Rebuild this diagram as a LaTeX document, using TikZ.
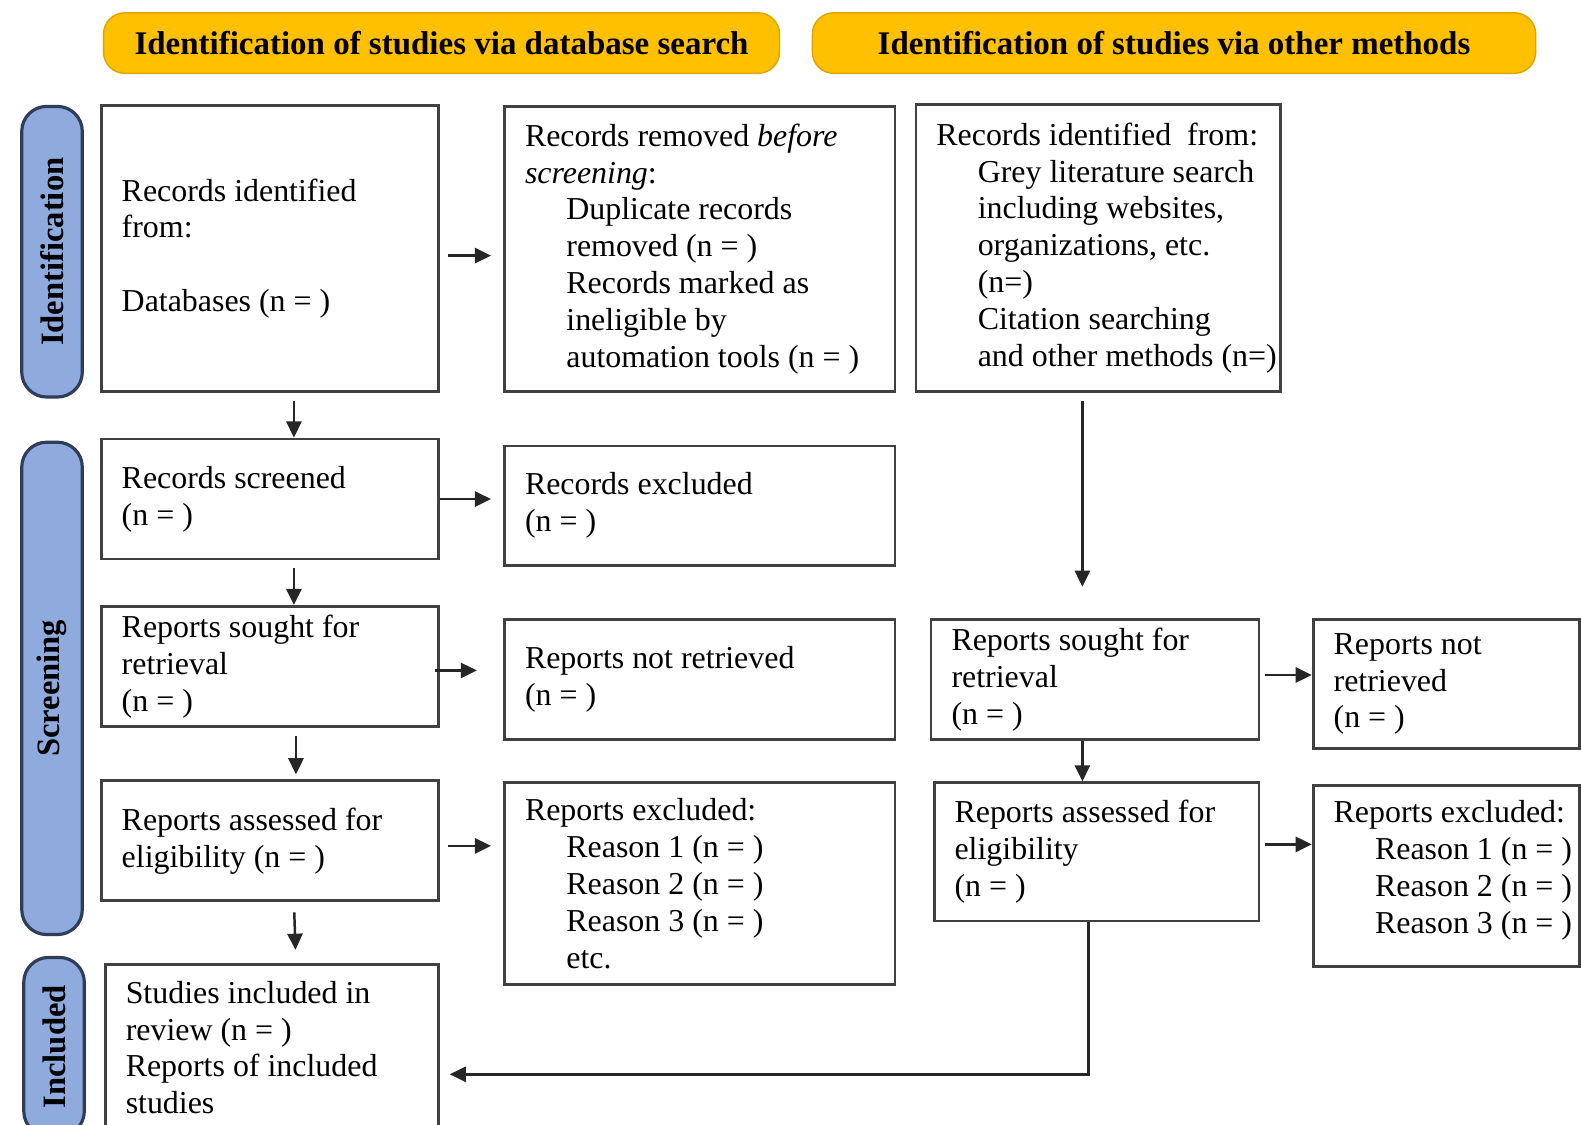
\documentclass[tikz,border=0pt]{standalone}
\usepackage{fontspec}
\setmainfont{Liberation Serif}
\usetikzlibrary{arrows.meta,positioning}
\definecolor{prgold}{RGB}{255,192,0}
\definecolor{prgoldline}{RGB}{222,165,0}
\definecolor{prblue}{RGB}{143,170,220}
\definecolor{prblueline}{RGB}{47,60,90}
\definecolor{prline}{RGB}{64,64,64}
\newcommand{\ind}{\hspace*{4.1mm}}

\begin{document}
\begin{tikzpicture}[x=0.01cm,y=-0.01cm,
  box/.style={draw=prline,line width=0.8pt,anchor=north west,inner sep=0pt},
  txt/.style={font=\fontsize{9}{10.4}\selectfont,align=left,inner sep=0pt},
  head/.style={draw=prgoldline,fill=prgold,rounded corners=6pt,anchor=north west,
    inner sep=0pt,font=\fontsize{9.3}{11}\selectfont\bfseries},
  tab/.style={draw=prblueline,fill=prblue,line width=0.9pt,rounded corners=7pt,
    anchor=north west,inner sep=0pt},
  tablbl/.style={rotate=90,font=\fontsize{9.2}{11}\selectfont\bfseries},
  arr/.style={-{Triangle[length=1.6mm,width=1.5mm]},line width=0.7pt,draw=black!85}
]
  \useasboundingbox (0,0) rectangle (1568,1115);

  % Headers
  \node[head,minimum width=6.70cm,minimum height=0.60cm] (hdb) at (102,12)
    {Identification of studies via database search};
  \node[head,minimum width=7.17cm,minimum height=0.60cm] (hoth) at (805,12)
    {Identification of studies via other methods};

  % Side tabs
  \node[tab,minimum width=0.60cm,minimum height=2.88cm] (tabid) at (20,104) {};
  \node[tablbl] at (tabid) {Identification};
  \node[tab,minimum width=0.60cm,minimum height=4.88cm] (tabscr) at (20,437) {};
  \node[tablbl] at (tabscr) {Screening};
  \node[tab,minimum width=0.60cm,minimum height=1.77cm] (tabinc) at (22,948) {};
  \node[tablbl] at (tabinc) {Included};

  % Database column
  \node[box,minimum width=3.34cm,minimum height=2.84cm] (recdb) at (99,103) {};
  \node[txt,right=0.21cm of recdb.west] {Records identified\\from:\\[10.4pt]Databases (n = )};
  \node[box,minimum width=3.34cm,minimum height=1.19cm] (screened) at (99,434) {};
  \node[txt,right=0.21cm of screened.west] {Records screened\\(n = )};
  \node[box,minimum width=3.34cm,minimum height=1.19cm] (sought) at (99,600) {};
  \node[txt,right=0.21cm of sought.west] {Reports sought for\\retrieval\\(n = )};
  \node[box,minimum width=3.34cm,minimum height=1.19cm] (assessed) at (99,773) {};
  \node[txt,right=0.21cm of assessed.west] {Reports assessed for\\eligibility (n = )};
  \node[box,minimum width=3.30cm,minimum height=1.65cm] (included) at (103,955) {};
  \node[txt,right=0.21cm of included.west] {Studies included in\\review (n = )\\Reports of included\\studies};

  % Removed / excluded column
  \node[box,minimum width=3.87cm,minimum height=2.83cm] (removed) at (499,104) {};
  \node[txt,right=0.21cm of removed.west] {Records removed \textit{before}\\\textit{screening}:\\
    \ind Duplicate records\\\ind removed (n = )\\\ind Records marked as\\
    \ind ineligible by\\\ind automation tools (n = )};
  \node[box,minimum width=3.87cm,minimum height=1.18cm] (excl) at (499,441) {};
  \node[txt,right=0.21cm of excl.west] {Records excluded\\(n = )};
  \node[box,minimum width=3.87cm,minimum height=1.19cm] (notret) at (499,613) {};
  \node[txt,right=0.21cm of notret.west] {Reports not retrieved\\(n = )};
  \node[box,minimum width=3.87cm,minimum height=2.00cm] (repexcl) at (499,775) {};
  \node[txt,right=0.21cm of repexcl.west] {Reports excluded:\\\ind Reason 1 (n = )\\
    \ind Reason 2 (n = )\\\ind Reason 3 (n = )\\\ind etc.};

  % Other methods column
  \node[box,minimum width=3.61cm,minimum height=2.85cm] (recoth) at (907,102) {};
  \node[txt,right=0.21cm of recoth.west] {Records identified\ \ from:\\\ind Grey literature search\\
    \ind including websites,\\\ind organizations, etc.\\\ind (n=)\\
    \ind Citation searching\\\ind and other methods (n=)};
  \node[box,minimum width=3.25cm,minimum height=1.19cm] (soughtoth) at (922,613) {};
  \node[txt,right=0.21cm of soughtoth.west] {Reports sought for\\retrieval\\(n = )};
  \node[box,minimum width=3.22cm,minimum height=1.37cm] (assessedoth) at (925,775) {};
  \node[txt,right=0.21cm of assessedoth.west] {Reports assessed for\\eligibility\\(n = )};
  \node[box,minimum width=2.64cm,minimum height=1.28cm] (notretoth) at (1301,613) {};
  \node[txt,right=0.21cm of notretoth.west] {Reports not\\retrieved\\(n = )};
  \node[box,minimum width=2.64cm,minimum height=1.79cm] (repexcloth) at (1301,778) {};
  \node[txt,right=0.21cm of repexcloth.west,yshift=0.06cm] {Reports excluded:\\\ind Reason 1 (n = )\\
    \ind Reason 2 (n = )\\\ind Reason 3 (n = )};

  % Arrows, database side
  \draw[arr,shorten <=0.08cm] ([xshift=0.24cm]recdb.south) -- ([xshift=0.24cm]screened.north);
  \draw[arr,shorten <=0.07cm] ([xshift=0.24cm]screened.south) -- ([xshift=0.24cm]sought.north);
  \draw[arr,shorten <=0.08cm,shorten >=0.05cm] ([xshift=0.26cm]sought.south) -- ([xshift=0.26cm]assessed.north);
  \draw[arr,shorten <=0.1cm,shorten >=0.13cm] ([xshift=0.24cm]assessed.south) -- ([xshift=0.24cm]included.north);
  \draw[arr,shorten <=0.08cm,shorten >=0.12cm] ([yshift=-0.07cm]recdb.east) -- ([yshift=-0.07cm]recdb.east -| removed.west);
  \draw[arr,shorten >=0.12cm] (screened.east) -- (screened.east -| excl.west);
  \draw[arr,shorten <=-0.05cm,shorten >=0.26cm] ([yshift=-0.04cm]sought.east) -- ([yshift=-0.04cm]sought.east -| notret.west);
  \draw[arr,shorten <=0.08cm,shorten >=0.12cm] ([yshift=-0.05cm]assessed.east) -- ([yshift=-0.05cm]assessed.east -| repexcl.west);

  % Arrows, other methods side
  \draw[arr,shorten <=0.08cm,shorten >=0.31cm] ([xshift=-0.155cm]recoth.south) -- ([xshift=-0.155cm]recoth.south |- soughtoth.north);
  \draw[arr] ([xshift=-0.125cm]soughtoth.south) -- ([xshift=-0.125cm]soughtoth.south |- assessedoth.north);
  \draw[arr,shorten <=0.05cm] ([yshift=0.045cm]soughtoth.east) -- ([yshift=0.045cm]soughtoth.east -| notretoth.west);
  \draw[arr,shorten <=0.05cm] ([yshift=0.075cm]assessedoth.east) -- ([yshift=0.075cm]assessedoth.east -| repexcloth.west);
  \draw[arr,shorten >=0.1cm] ([xshift=-0.08cm]assessedoth.south) |- ([yshift=-0.265cm]included.east);
\end{tikzpicture}
\end{document}
